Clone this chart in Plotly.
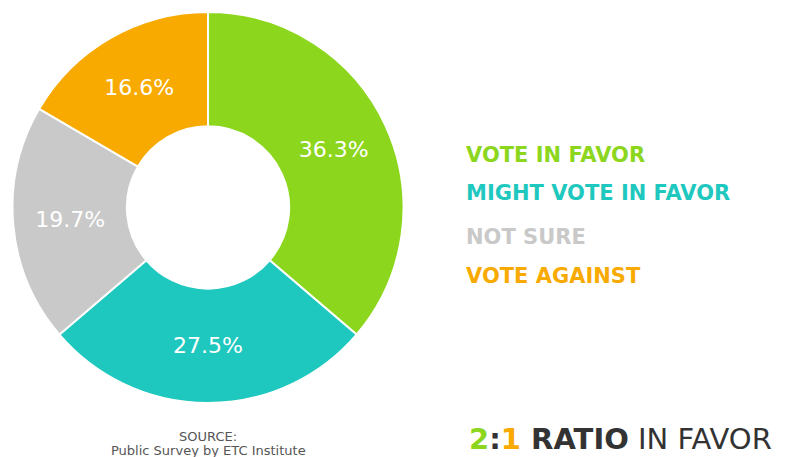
import plotly.graph_objects as go

# Survey responses (percent)
categories = ["VOTE IN FAVOR", "MIGHT VOTE IN FAVOR", "NOT SURE", "VOTE AGAINST"]
values = [36.3, 27.5, 19.7, 16.6]
colors = ["#8CD61E", "#1EC8BE", "#C9C9C9", "#F8AA00"]
legend_y_px = [155, 193, 237, 276]

W, H = 805, 457


def py(px):
    return 1 - px / H


def px_x(px):
    return px / W


fig = go.Figure()

fig.add_trace(go.Pie(
    labels=categories,
    values=values,
    text=[f"{v}%" for v in values],
    textinfo="text",
    textposition="inside",
    insidetextorientation="horizontal",
    textfont=dict(family="DejaVu Sans", size=22, color="white"),
    marker=dict(colors=colors, line=dict(color="white", width=2)),
    hole=0.415,
    sort=False,
    direction="clockwise",
    rotation=0,
    showlegend=False,
    domain=dict(x=[px_x(12), px_x(404)], y=[py(403), py(12)]),
))

annotations = []
# Right-hand key
for cat, col, ypx in zip(categories, colors, legend_y_px):
    annotations.append(dict(
        x=px_x(464), y=py(ypx), xref="paper", yref="paper",
        xanchor="left", yanchor="middle", showarrow=False,
        text=f"<b>{cat}</b>",
        font=dict(family="DejaVu Sans", size=21, color=col),
    ))

# Source note
annotations.append(dict(
    x=px_x(208), y=py(436), xref="paper", yref="paper",
    xanchor="center", yanchor="middle", showarrow=False,
    text="SOURCE:",
    font=dict(family="DejaVu Sans", size=13, color="#555555"),
))
annotations.append(dict(
    x=px_x(208), y=py(450), xref="paper", yref="paper",
    xanchor="center", yanchor="middle", showarrow=False,
    text="Public Survey by ETC Institute",
    font=dict(family="DejaVu Sans", size=13, color="#555555"),
))

# Headline ratio
annotations.append(dict(
    x=px_x(467), y=py(439), xref="paper", yref="paper",
    xanchor="left", yanchor="middle", showarrow=False,
    text=(f"<b><span style='color:{colors[0]}'>2</span>"
          "<span style='color:#333333'>:</span>"
          f"<span style='color:{colors[3]}'>1</span> RATIO</b> IN FAVOR"),
    font=dict(family="DejaVu Sans", size=29, color="#333333"),
))

fig.update_layout(
    width=W, height=H,
    margin=dict(l=0, r=0, t=0, b=0),
    paper_bgcolor="white",
    plot_bgcolor="white",
    annotations=annotations,
)

fig.write_html("out.html")
